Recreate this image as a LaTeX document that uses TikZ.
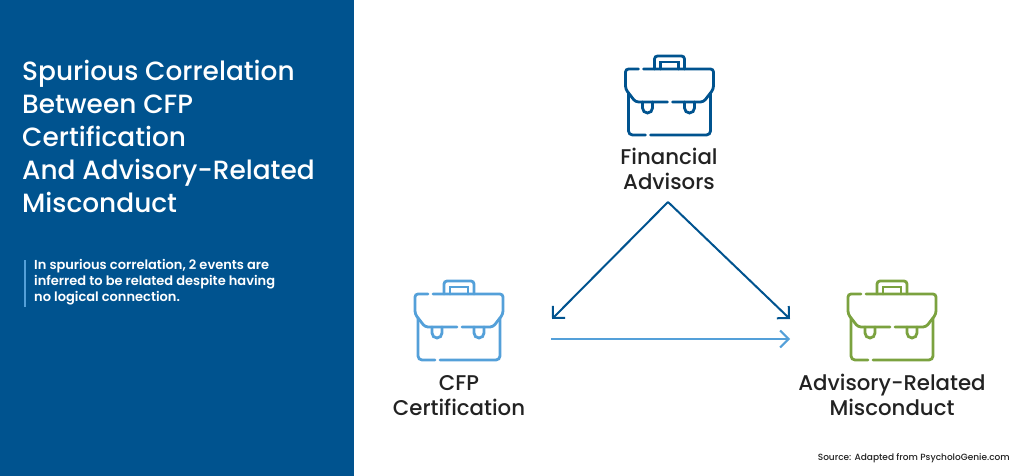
\documentclass[tikz,border=0pt]{standalone}
\usepackage{fontspec}
\setmainfont{Poppins Medium}
\newfontfamily\notefont{Poppins SemiBold}
\usepackage{xcolor}
\usetikzlibrary{arrows.meta}
\definecolor{navy}{HTML}{00538F}
\definecolor{sky}{HTML}{54A0D9}
\definecolor{olive}{HTML}{7BA23F}
\definecolor{ink}{HTML}{222222}

\begin{document}
\begin{tikzpicture}[x=1pt,y=-1pt]
	\tikzstyle{title} = [text=white, font=\fontsize{26.4}{33}\selectfont, align=left, anchor=north west, inner sep=0pt]
	\tikzstyle{note} = [text=white, font=\notefont\fontsize{13}{16}\selectfont, align=left, anchor=north west, inner sep=0pt]
	\tikzstyle{label} = [text=ink, font=\fontsize{21.3}{25}\selectfont, align=center, inner sep=0pt]
	\tikzstyle{source} = [text=ink, font=\fontsize{9}{11}\selectfont, anchor=east, inner sep=0pt]
	\tikzset{edge/.style = {line width=2pt, -{Straight Barb[length=8.5pt,width=17pt,line width=2pt]}}}
	\tikzset{bag/.pic = {
		% cap at the top, then flap and body, all with small gaps
		\draw[rounded corners=3pt] (-15,-27) -- (-15,-40) -- (15,-40) -- (15,-27);
		\draw (-9,-27) -- (-9,-34) -- (9,-34) -- (9,-27);
		\draw[rounded corners=3pt] (-31,-27) -- (-44,-27) -- (-44,-7) -- (-34,6) -- (-2,6);
		\draw[rounded corners=3pt] (-26,-27) -- (44,-27) -- (44,-7) -- (34,6) -- (3,6);
		\draw[rounded corners=4pt] (-41,-3) -- (-41,39) -- (-24,39);
		\draw[rounded corners=4pt] (41,-3) -- (41,39) -- (-19,39);
		\draw (-27,6) -- (-27,12) arc[start angle=180, end angle=0, radius=5] -- (-17,6);
		\draw (15,6) -- (15,12) arc[start angle=180, end angle=0, radius=5] -- (25,6);
	}}
	\tikzstyle{bagline} = [line width=2.8pt, line cap=round]

	\fill[navy] (0,0) rectangle (354,476);
	\useasboundingbox (0,0) rectangle (1023,476);

	\node[title](heading) at (22,59.5) {Spurious Correlation\\Between CFP\\Certification\\And Advisory-Related\\Misconduct};
	\draw[sky, line width=2pt] (25,260) -- (25,307);
	\node[note](notetext) at (34,259.5) {In spurious correlation, 2 events are\\inferred to be related despite having\\no logical connection.};

	\pic[navy, bagline] at (669.5,96) {bag};
	\pic[sky, bagline] at (459,321) {bag};
	\pic[olive, bagline] at (892,321) {bag};

	\node[label](advisors) at (669,169) {Financial\\Advisors};
	\node[label](cfp) at (459,395.3) {CFP\\Certification};
	\node[label](misconduct) at (892,395.3) {Advisory-Related\\Misconduct};
	\node[source](sourceline) at (1010,458) {Source: Adapted from PsycholoGenie.com};

	\coordinate (apex) at (668,202);
	\coordinate (cfpin) at (552,319);
	\coordinate (miscin) at (790,319);
	\coordinate (cfpout) at (551,339);
	\coordinate (miscout) at (790,339);
	\draw[edge, navy](apex) to (cfpin);
	\draw[edge, navy](apex) to (miscin);
	\draw[edge, sky](cfpout) to (miscout);
\end{tikzpicture}
\end{document}
